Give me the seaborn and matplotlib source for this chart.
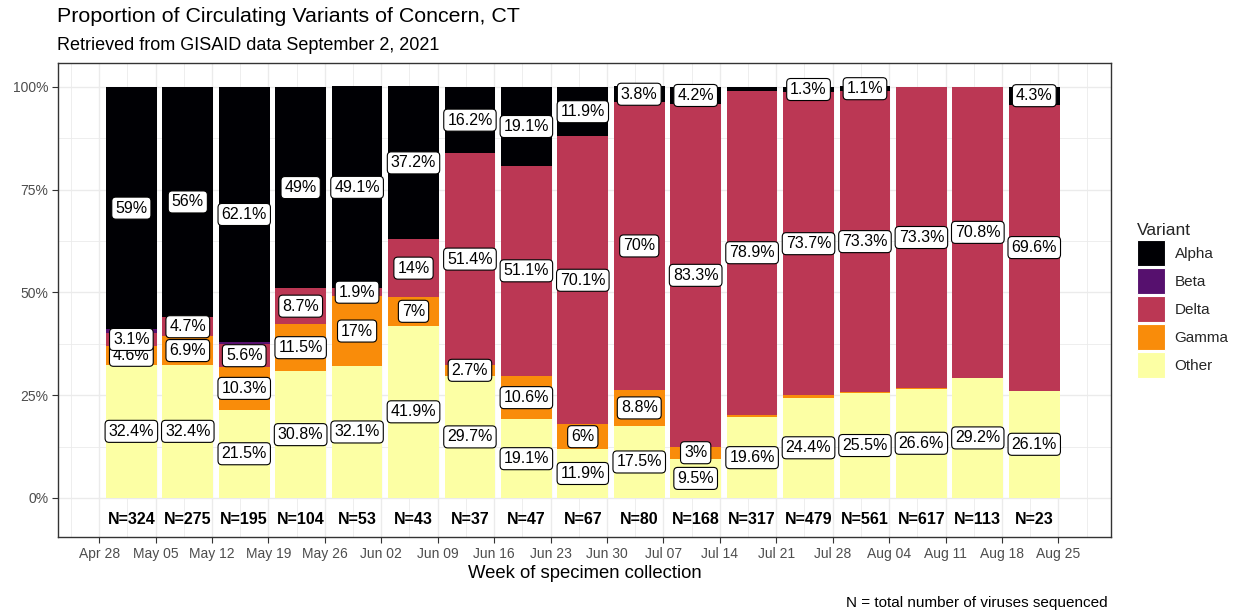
import numpy as np
import pandas as pd
import matplotlib.pyplot as plt
from matplotlib.patches import Patch
import seaborn as sns

# weekly data (percent of sequenced viruses)
weeks = ["May 02", "May 09", "May 16", "May 23", "May 30", "Jun 06", "Jun 13", "Jun 20",
         "Jun 27", "Jul 04", "Jul 11", "Jul 18", "Jul 25", "Aug 01", "Aug 08", "Aug 15", "Aug 22"]
n_seq = [324, 275, 195, 104, 53, 43, 37, 47, 67, 80, 168, 317, 479, 561, 617, 113, 23]
other = [32.4, 32.4, 21.5, 30.8, 32.1, 41.9, 29.7, 19.1, 11.9, 17.5, 9.5, 19.6, 24.4, 25.5, 26.6, 29.2, 26.1]
gamma = [4.6, 6.9, 10.3, 11.5, 17, 7, 2.7, 10.6, 6, 8.8, 3, 0.6, 0.6, 0.2, 0.1, 0, 0]
delta = [3.1, 4.7, 5.6, 8.7, 1.9, 14, 51.4, 51.1, 70.1, 70, 83.3, 78.9, 73.7, 73.3, 73.3, 70.8, 69.6]
beta = [0.9, 0, 0.5, 0, 0, 0, 0, 0, 0, 0, 0, 0, 0, 0, 0, 0, 0]
alpha = [59, 56, 62.1, 49, 49.1, 37.2, 16.2, 19.1, 11.9, 3.8, 4.2, 0.9, 1.3, 1.1, 0, 0, 4.3]
tick_labels = ["Apr 28", "May 05", "May 12", "May 19", "May 26", "Jun 02", "Jun 09", "Jun 16", "Jun 23",
               "Jun 30", "Jul 07", "Jul 14", "Jul 21", "Jul 28", "Aug 04", "Aug 11", "Aug 18", "Aug 25"]
variants = ["Alpha", "Beta", "Delta", "Gamma", "Other"]
colors = ["#000004", "#56106E", "#BB3754", "#F98C0A", "#FCFFA4"]

series = {"Alpha": alpha, "Beta": beta, "Delta": delta, "Gamma": gamma, "Other": other}
rows = []
for v in variants:
    for i, p in enumerate(series[v]):
        rows.append({"idx": i, "variant": v, "pct": p})
df = pd.DataFrame(rows)

sns.set_style("white")
plt.rcParams['font.family'] = ['Liberation Sans', 'DejaVu Sans']

fig = plt.figure(figsize=(12.41, 6.14), dpi=100)
ax = fig.add_axes([58 / 1241, 1 - 537 / 614, (1111 - 58) / 1241, (537 - 63) / 614])

# grid (theme_bw look)
tick_pos = np.arange(len(tick_labels)) - 4 / 7
for x in tick_pos:
    ax.axvline(x, color="#EBEBEB", lw=1.0, zorder=0)
    ax.axvline(x - 0.5, color="#EBEBEB", lw=0.6, zorder=0)
ax.axvline(tick_pos[-1] + 0.5, color="#EBEBEB", lw=0.6, zorder=0)
for y in [0, 25, 50, 75, 100]:
    ax.axhline(y, color="#EBEBEB", lw=1.0, zorder=0)
for y in [12.5, 37.5, 62.5, 87.5]:
    ax.axhline(y, color="#EBEBEB", lw=0.6, zorder=0)

sns.histplot(data=df, x="idx", weights="pct", hue="variant", hue_order=variants,
             multiple="stack", discrete=True, shrink=0.9, palette=colors,
             alpha=1, linewidth=0, legend=False, ax=ax, zorder=2)

# percent labels at the middle of each segment
stack_order = ["Other", "Gamma", "Delta", "Beta", "Alpha"]
for i in range(len(weeks)):
    base = 0
    for v in stack_order:
        val = series[v][i]
        if val >= 1:
            ax.text(i, base + val / 2, f"{val:g}%", ha="center", va="center", fontsize=11.5,
                    color="black", zorder=5,
                    bbox=dict(boxstyle="round,pad=0.22,rounding_size=0.25", fc="white", ec="black", lw=0.8))
        base += val
    ax.text(i, -5.3, f"N={n_seq[i]}", ha="center", va="center", fontsize=11.5,
            fontweight="bold", color="black", zorder=5)

ax.set_xlim(-1.30, 17.36)
ax.set_ylim(-9.5, 105.8)
ax.set_xticks(tick_pos)
ax.set_xticklabels(tick_labels)
ax.set_yticks([0, 25, 50, 75, 100])
ax.set_yticklabels(["0%", "25%", "50%", "75%", "100%"])
ax.tick_params(axis="both", labelsize=10, labelcolor="#4D4D4D", length=4, width=0.8,
               color="#333333", direction="out", bottom=True, left=True, pad=3)
ax.set_xlabel("Week of specimen collection", fontsize=13.3, color="black", labelpad=3)
ax.set_ylabel("")
for s in ax.spines.values():
    s.set_color("#333333")
    s.set_linewidth(1.0)

fig.text(57 / 1241, 1 - 17 / 614, "Proportion of Circulating Variants of Concern, CT",
         fontsize=15.4, va="center", ha="left", color="black")
fig.text(57 / 1241, 1 - 46 / 614, "Retrieved from GISAID data September 2, 2021",
         fontsize=13, va="center", ha="left", color="black")
fig.text(1108 / 1241, 1 - 603 / 614, "N = total number of viruses sequenced",
         fontsize=11, va="center", ha="right", color="black")

handles = [Patch(facecolor=c, edgecolor="white", lw=0.8) for c in colors]
fig.legend(handles, variants, title="Variant", loc="upper left",
           bbox_to_anchor=(1131 / 1241, 1 - 217 / 614), frameon=False,
           handlelength=1.8, handleheight=2.2, handletextpad=0.65, labelspacing=0.15,
           fontsize=11, title_fontsize=12.5, alignment="left", borderaxespad=0)

fig.savefig("out.png", dpi=100)
